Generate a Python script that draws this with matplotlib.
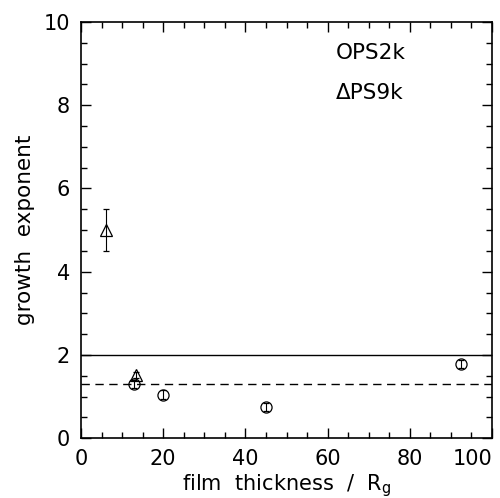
import matplotlib
matplotlib.use("Agg")
import matplotlib.pyplot as plt
from matplotlib.ticker import MultipleLocator

# Data
ps2k_x = [13.0, 20.0, 45.0, 92.5]
ps2k_y = [1.3, 1.05, 0.75, 1.78]
ps2k_err = [0.1, 0.1, 0.1, 0.1]

ps9k_x = [6.0, 13.5]
ps9k_y = [5.0, 1.52]
ps9k_err = [0.5, 0.08]

solid_level = 2.0
dashed_level = 1.3

x_ticks = [0, 20, 40, 60, 80, 100]
y_ticks = [0, 2, 4, 6, 8, 10]

plt.rcParams['font.family'] = ['DejaVu Sans']
fig = plt.figure(figsize=(5.0, 4.98), dpi=100)
ax = fig.add_axes([0.162, 0.12, 0.822, 0.836])

ax.axhline(solid_level, color='black', lw=1.0)
ax.axhline(dashed_level, color='black', lw=1.0, ls=(0, (6, 4)))

ax.errorbar(ps2k_x, ps2k_y, yerr=ps2k_err, fmt='o', mfc='none', mec='black',
            ecolor='black', ms=8, mew=0.9, elinewidth=0.8, capsize=2.5, capthick=0.8)
ax.errorbar(ps9k_x, ps9k_y, yerr=ps9k_err, fmt='^', mfc='none', mec='black',
            ecolor='black', ms=8, mew=0.9, elinewidth=0.8, capsize=2.5, capthick=0.8)

ax.text(62, 9.25, 'OPS2k', fontsize=15.5, ha='left', va='center', color='black')
ax.text(62, 8.3, '\u0394PS9k', fontsize=15.5, ha='left', va='center', color='black')

ax.set_xticks(x_ticks, [str(t) for t in x_ticks])
ax.set_yticks(y_ticks, [str(t) for t in y_ticks])
ax.set_xlim(0, 100)
ax.set_ylim(0, 10)
ax.xaxis.set_minor_locator(MultipleLocator(5))
ax.yaxis.set_minor_locator(MultipleLocator(0.5))
ax.tick_params(which='both', direction='in', top=True, right=True, width=1.0)
ax.tick_params(which='major', length=7, labelsize=15)
ax.tick_params(axis='x', which='major', pad=8)
ax.tick_params(axis='y', which='major', pad=8)
ax.tick_params(which='minor', length=4)
for s in ax.spines.values():
    s.set_linewidth(1.2)

ax.get_xticklabels()[-1].set_horizontalalignment('right')

ax.set_xlabel('film  thickness  /  R$_\\mathregular{g}$', fontsize=15, labelpad=2)
ax.set_ylabel('growth  exponent', fontsize=15.5, labelpad=6)

fig.savefig('out.png', dpi=100)
